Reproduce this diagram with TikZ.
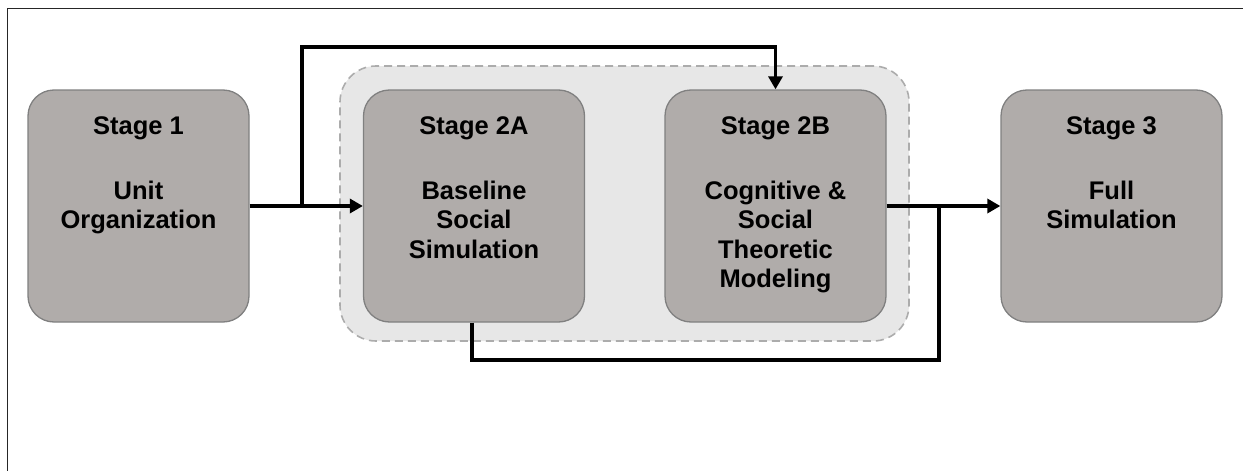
\documentclass[tikz,border=0pt]{standalone}
\usepackage{fontspec}
\setmainfont{Liberation Sans}
\usetikzlibrary{arrows.meta}
\definecolor{stagefill}{RGB}{176,172,170}
\definecolor{stageedge}{RGB}{128,128,128}
\definecolor{groupfill}{RGB}{231,231,231}
\definecolor{groupedge}{RGB}{172,172,172}
\tikzset{
  stagebox/.style={draw=stageedge, line width=1.3pt, fill=stagefill,
    rounded corners=26pt, minimum width=221pt, minimum height=232pt,
    inner sep=0pt},
  groupbox/.style={draw=groupedge, line width=1.6pt, fill=groupfill,
    dash pattern=on 8pt off 5pt, rounded corners=36pt,
    minimum width=569pt, minimum height=275pt, inner sep=0pt},
  stagetitle/.style={anchor=base, inner sep=0pt,
    font=\bfseries\fontsize{25.5pt}{29.5pt}\selectfont},
  stagetext/.style={anchor=north, inner sep=0pt, align=center,
    font=\bfseries\fontsize{25.5pt}{29.5pt}\selectfont},
  flow/.style={line width=3.5pt, -{Triangle[length=13pt,width=14pt]}},
  link/.style={line width=3.5pt},
}
\begin{document}
\begin{tikzpicture}[x=1pt, y=-1pt]
\useasboundingbox (0,0) rectangle (1243,471);
% page frame (left and top rules only)
\draw[line width=1.4pt, black!85] (7.5,471) -- (7.5,8.5) -- (1243,8.5);

% grouping of the two second stages
\node[groupbox] (grp) at (624.5,203.5) {};

% stage boxes
\node[stagebox] (s1)  at (138.5,206) {};
\node[stagebox] (s2a) at (474,206)   {};
\node[stagebox] (s2b) at (775.5,206) {};
\node[stagebox] (s3)  at (1111.5,206) {};

% titles
\node[stagetitle] (t1)  at (138.5,134)  {Stage 1};
\node[stagetitle] (t2a) at (474,134)    {Stage 2A};
\node[stagetitle] (t2b) at (775.5,134)  {Stage 2B};
\node[stagetitle] (t3)  at (1111.5,134) {Stage 3};

% descriptions (first line hangs from the same height in every box)
\node[stagetext] (d1)  at (138.5,180.5)  {Unit\\Organization};
\node[stagetext] (d2a) at (474,180.5)    {Baseline\\Social\\Simulation};
\node[stagetext] (d2b) at (775.5,180.5)  {Cognitive \&\\Social\\Theoretic\\Modeling};
\node[stagetext] (d3)  at (1111.5,180.5) {Full\\Simulation};

% junction points of the connectors
\coordinate (ja) at (302,206);
\coordinate (jt) at (302,47);
\coordinate (jb) at (939,206);
\coordinate (bl) at (472,360);

% connectors
\draw[line width=4.2pt] (s1.east) -- (ja);
\draw[flow] (ja) -- (s2a.west);
\draw[flow] (ja) -- (jt) -| (s2b.north);
\draw[flow] (s2b.east) -- (s3.west);
\draw[link] (s2a.south -| bl) -- (bl) -| (jb);
\end{tikzpicture}
\end{document}
